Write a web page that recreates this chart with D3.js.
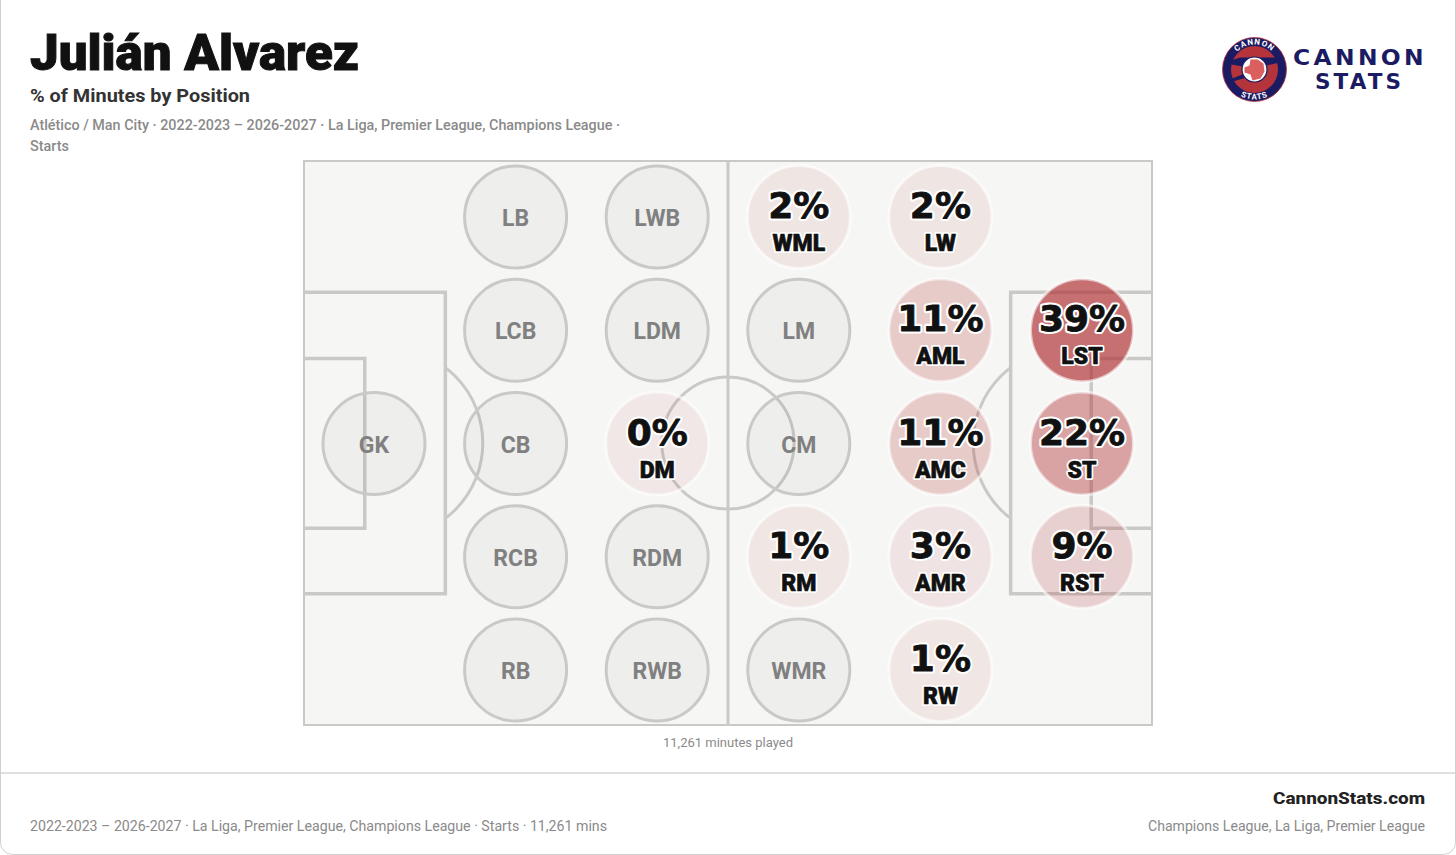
<!DOCTYPE html>
<html>
<head>
<meta charset="utf-8">
<script src="https://cdn.jsdelivr.net/npm/d3@7"></script>
<style>
 html, body { margin: 0; padding: 0; background: #fff; }
 svg { display: block; }
 text { font-family: Roboto, sans-serif; }
</style>
</head>
<body>
<script>
const width = 1456;
const height = 855;

// position grid, column / row are slots on the pitch
const positions = ["GK","LB","CB","LCB","RCB","RB","LWB","LDM","DM","RDM","RWB","WML","LM","CM","RM","WMR","LW","AML","AMC","AMR","RW","LST","ST","RST"];
const columns   = [0,1,1,1,1,1,2,2,2,2,2,3,3,3,3,3,4,4,4,4,4,5,5,5];
const rows      = [2,0,2,1,3,4,0,1,2,3,4,0,1,2,3,4,0,1,2,3,4,1,2,3];
// null means no minutes there, the circle stays grey
const minutesPct = [null,null,null,null,null,null,null,null,0,null,null,2,null,null,1,null,2,11,11,3,1,39,22,9];

const titleText = "Julián Alvarez";
const subtitleText = "% of Minutes by Position";
const metaLines = ["Atlético / Man City · 2022-2023 – 2026-2027 · La Liga, Premier League, Champions League ·", "Starts"];
const captionText = "11,261 minutes played";
const footerLeft = "2022-2023 – 2026-2027 · La Liga, Premier League, Champions League · Starts · 11,261 mins";
const footerRight = "Champions League, La Liga, Premier League";
const footerBrand = "CannonStats.com";

const svg = d3.select("body").append("svg").attr("width", width).attr("height", height);

// card
svg.append("rect").attr("x", 0.5).attr("y", -12).attr("width", width - 1).attr("height", height + 11.5)
 .attr("rx", 12).attr("fill", "#fff").attr("stroke", "#cfcfcf");
svg.append("line").attr("x1", 1).attr("x2", width - 1).attr("y1", 773).attr("y2", 773)
 .attr("stroke", "#d4d4d4").attr("stroke-width", 1.5);

// small helper, textLength keeps the widths of the substitute fonts on the original ones
function label(g, str, x, y, size, weight, fill, len, anchor) {
 const t = g.append("text").attr("x", x).attr("y", y).attr("font-size", size)
  .attr("font-weight", weight).attr("fill", fill).attr("text-anchor", anchor || "start").text(str);
 if (len) t.attr("textLength", len).attr("lengthAdjust", "spacingAndGlyphs");
 return t;
}

// header
label(svg, titleText, 30, 70, 50, 900, "#111", 329).attr("stroke", "#111").attr("stroke-width", 1);
label(svg, subtitleText, 30, 102, 18, 700, "#333", 220);
label(svg, metaLines[0], 30, 130, 14, 500, "#8a8a8a", 590);
label(svg, metaLines[1], 30, 151, 14, 500, "#8a8a8a", 39);

// pitch, 120 x 80 units
const x = d3.scaleLinear().domain([0, 120]).range([304, 1152]);
const y = d3.scaleLinear().domain([0, 80]).range([161, 725]);
const lineCol = "#c9c9c7";
const pitch = svg.append("g");

pitch.append("rect").attr("x", x(0)).attr("y", y(0)).attr("width", x(120) - x(0)).attr("height", y(80) - y(0))
 .attr("fill", "#f6f6f4").attr("stroke", lineCol).attr("stroke-width", 2);

const defs = svg.append("defs");
defs.append("clipPath").attr("id", "clipLeft").append("rect")
 .attr("x", x(20)).attr("y", y(0)).attr("width", x(60) - x(20)).attr("height", y(80) - y(0));
defs.append("clipPath").attr("id", "clipRight").append("rect")
 .attr("x", x(60)).attr("y", y(0)).attr("width", x(100) - x(60)).attr("height", y(80) - y(0));

function pitchRect(x0, x1, y0, y1) {
 // right side boxes run into the goal line, only three sides are drawn
 const p = d3.path();
 if (x0 == 0) {
  p.moveTo(x(0), y(y0)); p.lineTo(x(x1), y(y0)); p.lineTo(x(x1), y(y1)); p.lineTo(x(0), y(y1));
 } else {
  p.moveTo(x(120), y(y0)); p.lineTo(x(x0), y(y0)); p.lineTo(x(x0), y(y1)); p.lineTo(x(120), y(y1));
 }
 pitch.append("path").attr("d", p.toString()).attr("fill", "none").attr("stroke", lineCol).attr("stroke-width", 3.5);
}
pitchRect(0, 20, 18.6, 61.4);
pitchRect(0, 8.6, 28, 52.1);
pitchRect(100, 120, 18.6, 61.4);
pitchRect(111.4, 120, 28, 52.1);

pitch.append("line").attr("x1", x(60)).attr("x2", x(60)).attr("y1", y(0)).attr("y2", y(80))
 .attr("stroke", lineCol).attr("stroke-width", 3);
pitch.append("circle").attr("cx", x(60)).attr("cy", y(40)).attr("r", x(9.35) - x(0))
 .attr("fill", "none").attr("stroke", lineCol).attr("stroke-width", 3);
pitch.append("circle").attr("cx", x(11.9)).attr("cy", y(40)).attr("r", x(13.4) - x(0))
 .attr("fill", "none").attr("stroke", lineCol).attr("stroke-width", 3).attr("clip-path", "url(#clipLeft)");
pitch.append("circle").attr("cx", x(108.1)).attr("cy", y(40)).attr("r", x(13.4) - x(0))
 .attr("fill", "none").attr("stroke", lineCol).attr("stroke-width", 3).attr("clip-path", "url(#clipRight)");

// position circles
const cx = d3.scalePoint().domain(d3.range(6)).range([374, 1082]);
const cy = d3.scalePoint().domain(d3.range(5)).range([217, 670]);
const alpha = d3.scaleLinear().domain([0, 3, 11, 22, 39]).range([0.07, 0.09, 0.22, 0.42, 0.68]);

const data = positions.map((p, i) => ({ pos: p, col: columns[i], row: rows[i], pct: minutesPct[i] }));

const nodes = svg.append("g").selectAll("g").data(data).enter().append("g")
 .attr("transform", d => "translate(" + cx(d.col) + "," + cy(d.row) + ")");

nodes.append("circle")
 .attr("r", d => d.pct === null ? 51 : 51.5)
 .attr("fill", d => d.pct === null ? "rgba(90,90,90,0.05)" : "rgba(176,48,52," + alpha(d.pct) + ")")
 .attr("stroke", d => d.pct === null ? lineCol : "rgba(255,255,255,0.6)")
 .attr("stroke-width", 3);

nodes.filter(d => d.pct === null).append("text")
 .attr("y", 9).attr("text-anchor", "middle").attr("font-size", 23).attr("font-weight", 700)
 .attr("fill", "#808080").text(d => d.pos);

const played = nodes.filter(d => d.pct !== null);

// white halo first, then a thin stroke on the glyphs to get the weight of the original
function haloText(sel, yPos, size, family, halo, heavy, str) {
 [[halo, "#fff"], [heavy, "#111"]].forEach(s => {
  sel.append("text")
   .attr("y", yPos).attr("text-anchor", "middle")
   .style("font-family", family).attr("font-size", size).attr("font-weight", 900)
   .attr("fill", "#111").attr("stroke", s[1]).attr("stroke-width", s[0])
   .attr("stroke-linejoin", "round").text(str);
 });
}
haloText(played, 1, 36, "'DejaVu Sans'", 5, 0.8, d => d.pct + "%");
haloText(played, 34, 23, "Roboto", 4, 0.6, d => d.pos);

// caption and footer
label(svg, captionText, 728, 747, 12, 400, "#8a8a8a", 130, "middle");
label(svg, footerLeft, 30, 831, 14, 400, "#8a8a8a", 577);
label(svg, footerRight, 1425, 831, 14, 400, "#8a8a8a", 277, "end");
label(svg, footerBrand, 1425, 804, 17, 800, "#222", 152, "end");

// logo
const navy = "#1b1b63";
const logo = svg.append("g").attr("transform", "translate(1254.5,69.5)");
logo.append("circle").attr("r", 32).attr("fill", navy).attr("stroke", "#b5333a").attr("stroke-width", 0.8);
logo.append("circle").attr("r", 23.5).attr("fill", "#b5333a");
logo.append("path").attr("d", "M-25,-9 L-14,-12 L29,-12 L29,-8 L12,-4 L-12,-3 L-23,-5 Z").attr("fill", navy);
logo.append("path").attr("d", "M-27,11 L-10,4 L-8,8 L-25,13 Z").attr("fill", navy);
logo.append("circle").attr("r", 12.5).attr("fill", "#fff").attr("stroke", navy).attr("stroke-width", 1.2);
logo.append("path").attr("d", "M-10,-2 L-5,-4 L-4,-10 L3,-10 L9,-6 L10,2 L6,9 L-2,11 L-4,5 L-10,3 Z").attr("fill", "#d9605f");
defs.append("path").attr("id", "logoTop").attr("d", "M-25,0 A25,25 0 0 1 25,0");
defs.append("path").attr("id", "logoBottom").attr("d", "M-30,0 A30,30 0 0 0 30,0");
logo.append("text").attr("font-size", 8).attr("font-weight", 700).attr("fill", "#fff").attr("letter-spacing", 1)
 .append("textPath").attr("href", "#logoTop").attr("startOffset", "50%").attr("text-anchor", "middle").text("CANNON");
logo.append("text").attr("font-size", 8).attr("font-weight", 700).attr("fill", "#fff").attr("letter-spacing", 1)
 .append("textPath").attr("href", "#logoBottom").attr("startOffset", "50%").attr("text-anchor", "middle").text("STATS");
label(svg, "CANNON", 1293, 64.5, 21, 700, navy, 134).style("font-family", "'DejaVu Sans'").attr("letter-spacing", 3);
label(svg, "STATS", 1315, 88.5, 21, 700, navy, 89).style("font-family", "'DejaVu Sans'").attr("letter-spacing", 3);
</script>
</body>
</html>
